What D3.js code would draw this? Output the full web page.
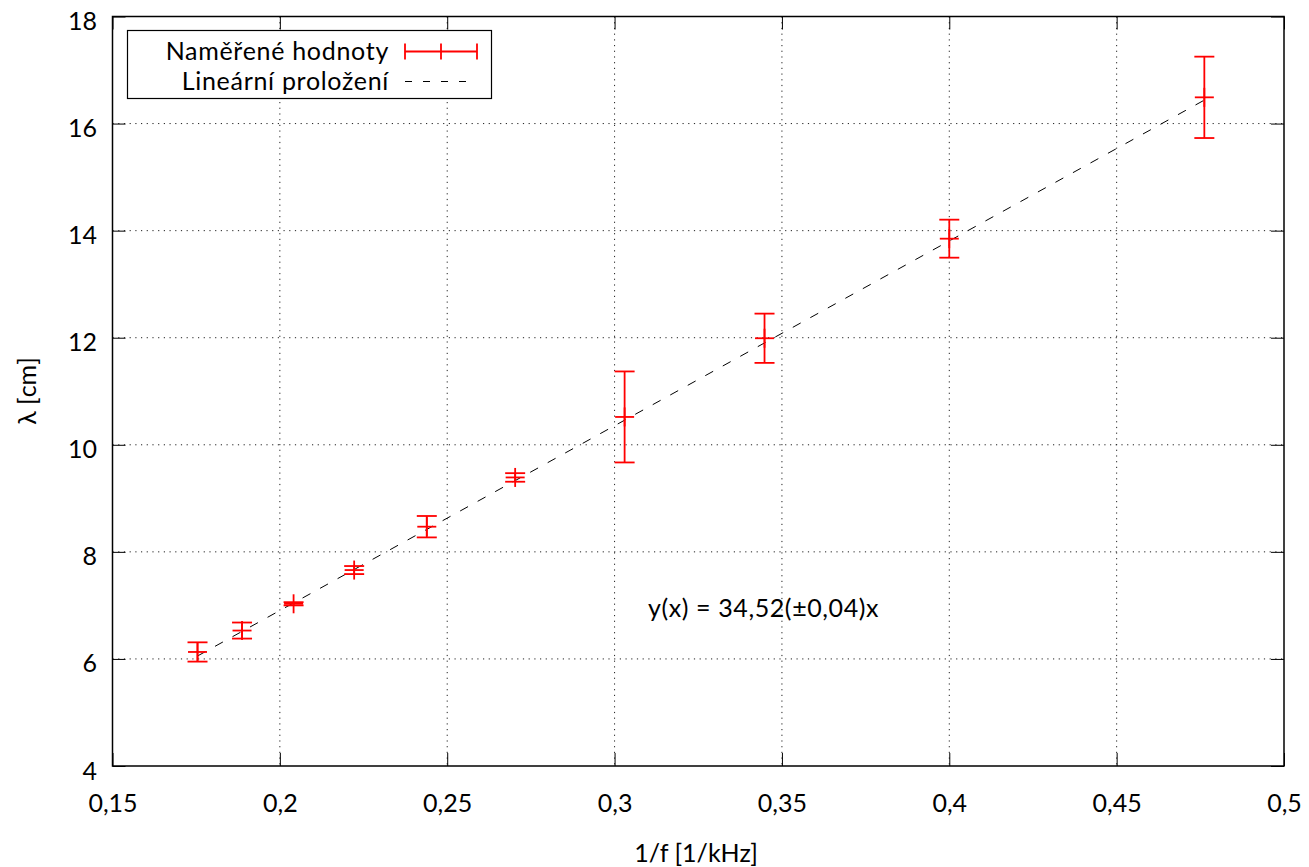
<!DOCTYPE html>
<html>
<head>
<meta charset="utf-8">
<script src="https://cdn.jsdelivr.net/npm/d3@7"></script>
<style>
  body { margin: 0; background: #fff; }
  svg { display: block; font-family: Lato, "Open Sans", sans-serif; }
</style>
</head>
<body>
<svg id="chart" width="1309" height="867"></svg>
<script>
// Measured points: 1/f [1/kHz], wavelength [cm], its uncertainty
const invFreq   = [0.1754, 0.1887, 0.2041, 0.2222, 0.2439, 0.2703, 0.3030, 0.3448, 0.4000, 0.4762];
const lambda    = [6.13, 6.53, 7.03, 7.66, 8.47, 9.39, 10.52, 11.99, 13.85, 16.49];
const lambdaErr = [0.18, 0.15, 0.03, 0.075, 0.20, 0.08, 0.85, 0.46, 0.355, 0.76];

// Linear fit through the origin
const fitSlope = 34.52;

const xTicks = [0.15, 0.2, 0.25, 0.3, 0.35, 0.4, 0.45, 0.5];
const yTicks = [4, 6, 8, 10, 12, 14, 16, 18];

const legendLabels = ["Naměřené hodnoty", "Lineární proložení"];
const fitLabel = "y(x) = 34,52(±0,04)x";
const xTitle = "1/f [1/kHz]";
const yTitle = "λ [cm]";

const FS = 25;
const svg = d3.select("#chart");
const m = { left: 112.5, right: 1284, top: 16.5, bottom: 766 };

const x = d3.scaleLinear().domain([0.15, 0.5]).range([m.left, m.right]);
const y = d3.scaleLinear().domain([4, 18]).range([m.bottom, m.top]);
const fmt = v => String(v).replace(".", ",");

const grid = svg.append("g").attr("stroke", "#222").attr("stroke-width", 1)
  .attr("stroke-dasharray", "1.2,4.5");
xTicks.slice(1, -1).forEach(t => grid.append("line")
  .attr("x1", x(t)).attr("x2", x(t)).attr("y1", m.top).attr("y2", m.bottom));
yTicks.slice(1, -1).forEach(t => grid.append("line")
  .attr("x1", m.left).attr("x2", m.right).attr("y1", y(t)).attr("y2", y(t)));

// Axes with inward ticks on all four sides
const tl = 13;
svg.append("g").attr("transform", `translate(0,${m.bottom})`)
  .call(d3.axisBottom(x).tickValues(xTicks).tickFormat(fmt).tickSizeInner(-tl).tickSizeOuter(0).tickPadding(28));
svg.append("g").attr("transform", `translate(0,${m.top})`)
  .call(d3.axisTop(x).tickValues(xTicks).tickFormat("").tickSizeInner(-tl).tickSizeOuter(0));
const yAxis = svg.append("g").attr("transform", `translate(${m.left},0)`)
  .call(d3.axisLeft(y).tickValues(yTicks).tickFormat(fmt).tickSizeInner(-tl).tickSizeOuter(0).tickPadding(15.5));
yAxis.selectAll(".tick text").attr("dy", "0.52em");
svg.append("g").attr("transform", `translate(${m.right},0)`)
  .call(d3.axisRight(y).tickValues(yTicks).tickFormat("").tickSizeInner(-tl).tickSizeOuter(0));
svg.selectAll(".domain").remove();
svg.selectAll(".tick line").attr("stroke", "#000");
svg.selectAll(".tick text").attr("font-size", FS).attr("fill", "#000").attr("font-family", "Lato, sans-serif");

svg.append("rect").attr("x", m.left).attr("y", m.top)
  .attr("width", m.right - m.left).attr("height", m.bottom - m.top)
  .attr("fill", "none").attr("stroke", "#000").attr("stroke-width", 1.5);

// Fit line
const xs = d3.extent(invFreq);
svg.append("line")
  .attr("x1", x(xs[0])).attr("y1", y(fitSlope * xs[0]))
  .attr("x2", x(xs[1])).attr("y2", y(fitSlope * xs[1]))
  .attr("stroke", "#000").attr("stroke-width", 1).attr("stroke-dasharray", "9,11");

// Error bars with "+" markers
const red = "#ff0000";
const cap = 10, plus = 9.5;
const pts = svg.append("g").attr("stroke", red).attr("stroke-width", 1.8).attr("fill", "none");
invFreq.forEach((fx, i) => {
  const cx = x(fx), cy = y(lambda[i]);
  const yt = y(lambda[i] + lambdaErr[i]), yb = y(lambda[i] - lambdaErr[i]);
  const g = pts.append("g");
  g.append("line").attr("x1", cx).attr("x2", cx).attr("y1", yt).attr("y2", yb);
  g.append("line").attr("x1", cx - cap).attr("x2", cx + cap).attr("y1", yt).attr("y2", yt);
  g.append("line").attr("x1", cx - cap).attr("x2", cx + cap).attr("y1", yb).attr("y2", yb);
  g.append("line").attr("x1", cx - plus).attr("x2", cx + plus).attr("y1", cy).attr("y2", cy);
  g.append("line").attr("x1", cx).attr("x2", cx).attr("y1", cy - plus).attr("y2", cy + plus);
});

// Legend
const lg = svg.append("g");
lg.append("rect").attr("x", 127.5).attr("y", 30.5).attr("width", 364).attr("height", 68)
  .attr("fill", "#fff").attr("stroke", "#000").attr("stroke-width", 1.2);
const rowY = [51.5, 81.5];
legendLabels.forEach((t, i) => lg.append("text")
  .attr("x", 389).attr("y", rowY[i]).attr("dy", "0.35em").attr("text-anchor", "end")
  .attr("font-size", FS).attr("letter-spacing", "0.7px").text(t));
const s0 = 405, s1 = 477, sm = (s0 + s1) / 2;
const ls = lg.append("g").attr("stroke", red).attr("stroke-width", 1.8);
ls.append("line").attr("x1", s0).attr("x2", s1).attr("y1", rowY[0]).attr("y2", rowY[0]);
[s0, sm, s1].forEach(sx => ls.append("line").attr("x1", sx).attr("x2", sx)
  .attr("y1", rowY[0] - 8).attr("y2", rowY[0] + 8));
lg.append("line").attr("x1", s0).attr("x2", s1).attr("y1", rowY[1]).attr("y2", rowY[1])
  .attr("stroke", "#000").attr("stroke-width", 1).attr("stroke-dasharray", "7,11");

// Annotation and axis titles
svg.append("text").attr("x", 648).attr("y", 608).attr("dy", "0.35em")
  .attr("font-size", FS).attr("letter-spacing", "0.6px").text(fitLabel);
svg.append("text").attr("x", 696).attr("y", 853).attr("dy", "0.35em")
  .attr("text-anchor", "middle").attr("font-size", FS).text(xTitle);
svg.append("text").attr("transform", `translate(27,391) rotate(-90)`)
  .attr("dy", "0.35em").attr("text-anchor", "middle").attr("font-size", FS).text(yTitle);
</script>
</body>
</html>
